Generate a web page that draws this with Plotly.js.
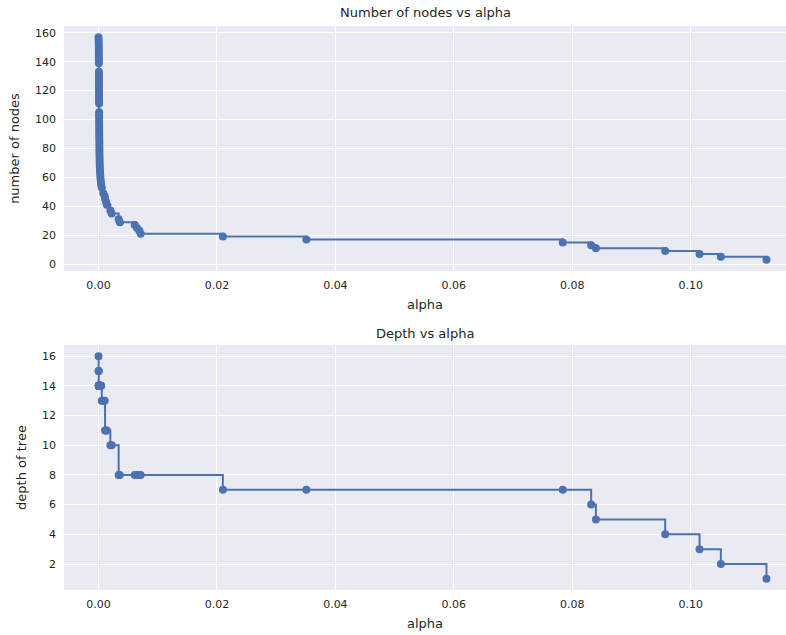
<!DOCTYPE html>
<html>
<head>
<meta charset="utf-8">
<script src="https://cdn.plot.ly/plotly-3.0.1.min.js"></script>
<style>
  html, body { margin: 0; padding: 0; background: #ffffff; }
  #chart { width: 786px; height: 635px; }
</style>
</head>
<body>
<div id="chart"></div>
<script>
// Effective alphas from cost-complexity pruning, with the size and depth
// of the tree that each alpha produces.
const ccpAlphas = [
  0.00000, 0.00002, 0.00003, 0.00004, 0.00004, 0.00005, 0.00005, 0.00005,
  0.00006, 0.00006, 0.00006, 0.00007, 0.00007, 0.00007, 0.00007, 0.00008,
  0.00008, 0.00008, 0.00009, 0.00009, 0.00009, 0.00010, 0.00010, 0.00010,
  0.00011, 0.00011, 0.00011, 0.00012, 0.00012, 0.00012, 0.00013, 0.00013,
  0.00014, 0.00014, 0.00015, 0.00015, 0.00016, 0.00017, 0.00018, 0.00019,
  0.00020, 0.00022, 0.00024, 0.00026, 0.00030, 0.00034, 0.00040, 0.00045,
  0.00055, 0.00080, 0.00105, 0.00110, 0.00128, 0.00140, 0.00200, 0.00222,
  0.00340, 0.00360, 0.00612, 0.00650, 0.00690, 0.00712, 0.02100, 0.03510,
  0.07840, 0.08320, 0.08400, 0.09570, 0.10150, 0.10510, 0.11280
];
const nodeCounts = [
  157, 155, 153, 151, 149, 147, 145, 143,
  141, 139, 133, 131, 129, 127, 125, 123,
  121, 119, 117, 115, 113, 111, 105, 103,
  101, 99, 97, 95, 93, 91, 89, 87,
  85, 83, 81, 79, 77, 75, 73, 71,
  69, 67, 65, 63, 61, 59, 57, 55,
  53, 49, 47, 45, 43, 41, 37, 35,
  31, 29, 27, 25, 23, 21, 19, 17,
  15, 13, 11, 9, 7, 5, 3
];
const treeDepths = [
  16, 15, 15, 14, 14, 14, 14, 14,
  14, 14, 14, 14, 14, 14, 14, 14,
  14, 14, 14, 14, 14, 14, 14, 14,
  14, 14, 14, 14, 14, 14, 14, 14,
  14, 14, 14, 14, 14, 14, 14, 14,
  14, 14, 14, 14, 14, 14, 14, 14,
  13, 13, 13, 11, 11, 11, 10, 10,
  8, 8, 8, 8, 8, 8, 7, 7,
  7, 6, 5, 4, 3, 2, 1
];

const xTickVals = [0, 0.02, 0.04, 0.06, 0.08, 0.10];
const nodeTickVals = [0, 20, 40, 60, 80, 100, 120, 140, 160];
const depthTickVals = [2, 4, 6, 8, 10, 12, 14, 16];

const blue = '#4C72B0';
const textColor = '#262626';
const font = 'DejaVu Sans, sans-serif';

function stepTrace(y, xa, ya) {
  return {
    x: ccpAlphas, y: y, xaxis: xa, yaxis: ya,
    type: 'scatter', mode: 'lines+markers',
    line: { color: blue, width: 2, shape: 'hv' },
    marker: { color: blue, size: 8 },
    hoverinfo: 'x+y', showlegend: false
  };
}

function xAxis(anchor) {
  return {
    anchor: anchor, domain: [64 / 786, 1],
    range: [-0.00583, 0.1161],
    tickvals: xTickVals, tickformat: '.2f',
    showgrid: true, gridcolor: '#ffffff', gridwidth: 1,
    zeroline: false, showline: false, ticks: '',
    ticklabelstandoff: 6,
    tickfont: { family: font, size: 11, color: textColor },
    title: { text: 'alpha', font: { family: font, size: 13, color: textColor }, standoff: 8 }
  };
}

function yAxis(anchor, domain, range, tickvals, label, standoff) {
  return {
    anchor: anchor, domain: domain, range: range, tickvals: tickvals,
    showgrid: true, gridcolor: '#ffffff', gridwidth: 1,
    zeroline: false, showline: false, ticks: '',
    ticklabelstandoff: 7,
    tickfont: { family: font, size: 11, color: textColor },
    title: { text: label, font: { family: font, size: 13, color: textColor }, standoff: standoff }
  };
}

const data = [
  stepTrace(nodeCounts, 'x', 'y'),
  stepTrace(treeDepths, 'x2', 'y2')
];

const H = 635;
const layout = {
  width: 786, height: 635,
  margin: { l: 0, r: 0, t: 0, b: 0 },
  paper_bgcolor: '#ffffff',
  plot_bgcolor: '#EAEAF2',
  font: { family: font, color: textColor },
  xaxis: xAxis('y'),
  yaxis: yAxis('x', [1 - 271 / H, 1 - 26 / H], [-4.8, 164.7], nodeTickVals, 'number of nodes', 12),
  xaxis2: xAxis('y2'),
  yaxis2: yAxis('x2', [1 - 590 / H, 1 - 345 / H], [0.25, 16.75], depthTickVals, 'depth of tree', 12),
  annotations: [
    { text: 'Number of nodes vs alpha', xref: 'paper', yref: 'paper',
      x: (64 + 786) / 2 / 786, y: 1 - 13 / H, xanchor: 'center', yanchor: 'middle',
      showarrow: false, font: { family: font, size: 13, color: textColor } },
    { text: 'Depth vs alpha', xref: 'paper', yref: 'paper',
      x: (64 + 786) / 2 / 786, y: 1 - 333 / H, xanchor: 'center', yanchor: 'middle',
      showarrow: false, font: { family: font, size: 13, color: textColor } }
  ]
};

Plotly.newPlot('chart', data, layout, { displayModeBar: false, staticPlot: true });
</script>
</body>
</html>
